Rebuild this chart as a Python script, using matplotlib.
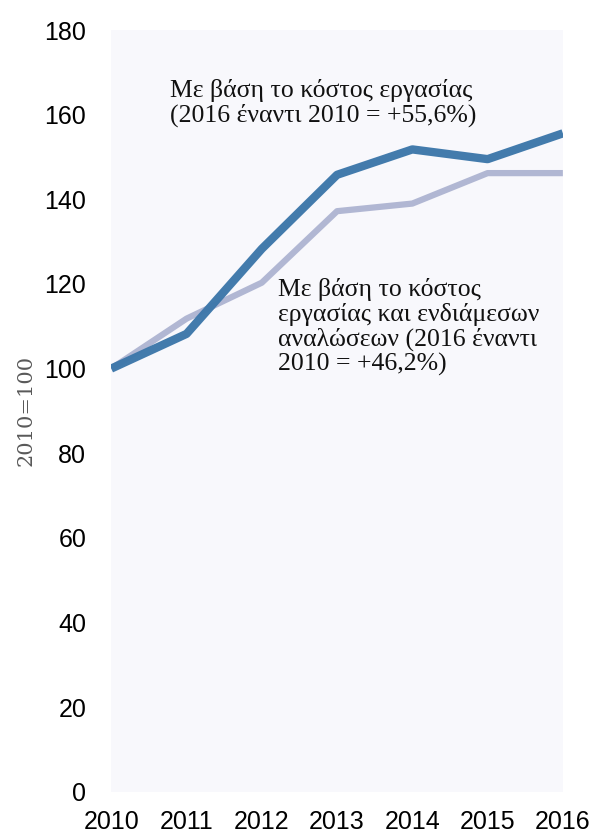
import matplotlib
matplotlib.use("Agg")
import matplotlib.pyplot as plt

years = [2010, 2011, 2012, 2013, 2014, 2015, 2016]
labour_cost = [100, 108.2, 128.3, 145.8, 151.8, 149.5, 155.6]
labour_inter = [100, 111.8, 120.3, 137.2, 139.0, 146.2, 146.2]
yticks = [0, 20, 40, 60, 80, 100, 120, 140, 160, 180]
label1 = "Με βάση το κόστος εργασίας\n(2016 έναντι 2010 = +55,6%)"
label2 = "Με βάση το κόστος\nεργασίας και ενδιάμεσων\nαναλώσεων (2016 έναντι\n2010 = +46,2%)"

fig = plt.figure(figsize=(5.95, 8.36), dpi=100)
ax = fig.add_axes([0.187, 0.053, 0.759, 0.911])
ax.set_facecolor("#f8f8fc")
ax.plot(years, labour_inter, color="#b1b7d3", lw=4.5, solid_capstyle="butt", zorder=2)
ax.plot(years, labour_cost, color="#3d77aa", lw=6.0, solid_capstyle="butt", zorder=3, alpha=0.97)
ax.set_xlim(2010, 2016)
ax.set_ylim(0, 180)
ax.set_yticks(yticks)
ax.set_xticks(years)
ax.tick_params(length=0, labelsize=18)
ax.tick_params(axis="y", pad=18)
ax.tick_params(axis="x", pad=13)
for lab in ax.get_xticklabels() + ax.get_yticklabels():
    lab.set_fontfamily("Liberation Sans")
for s in ax.spines.values():
    s.set_visible(False)
ax.set_ylabel("2010=100", family="DejaVu Serif", color="#595959", fontsize=15, labelpad=6)

serif = ["Liberation Serif", "DejaVu Serif"]
ax.text(2010.78, 168.4, label1, family=serif, fontsize=18.5, va="top", ha="left",
        linespacing=1.1, color="#111111")
ax.text(2012.22, 121.3, label2, family=serif, fontsize=18.5, va="top", ha="left",
        linespacing=1.1, color="#111111")

fig.savefig("out.png", dpi=100)
